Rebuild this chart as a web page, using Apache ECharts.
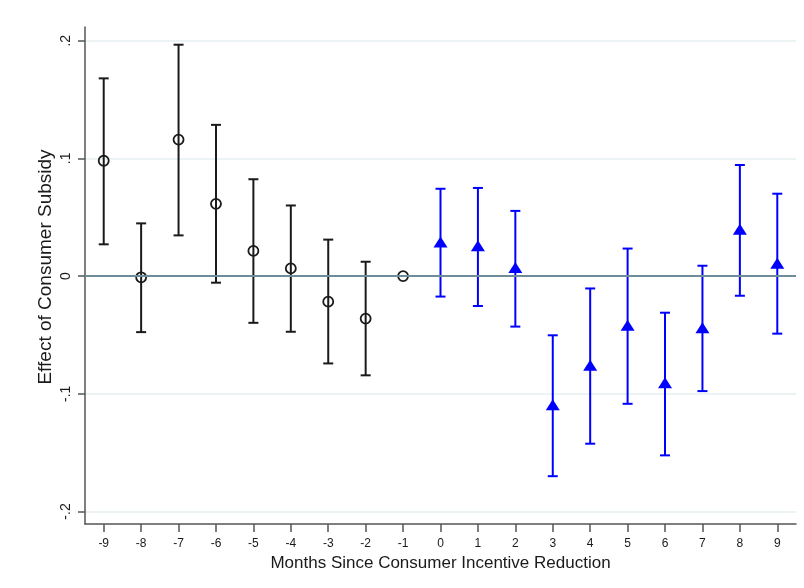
<!DOCTYPE html>
<html>
<head>
<meta charset="utf-8">
<script src="https://cdn.jsdelivr.net/npm/echarts@6/dist/echarts.min.js"></script>
<style>
html,body{margin:0;padding:0;background:#fff;}
#chart{width:804px;height:588px;}
</style>
</head>
<body>
<div id="chart"></div>
<script>
// ---- data ----
var months = ['-9','-8','-7','-6','-5','-4','-3','-2','-1','0','1','2','3','4','5','6','7','8','9'];
var preMonths = ['-9','-8','-7','-6','-5','-4','-3','-2','-1'];
var preCoef  = [0.098, -0.001, 0.116, 0.0614, 0.0214, 0.0065, -0.0217, -0.0361, 0];
var preLow   = [0.027, -0.0476, 0.0346, -0.0056, -0.0397, -0.0473, -0.0742, -0.0843, 0];
var preHigh  = [0.168, 0.0448, 0.1966, 0.1285, 0.0823, 0.060, 0.031, 0.0122, 0];
var postMonths = ['0','1','2','3','4','5','6','7','8','9'];
var postCoef = [0.029, 0.0258, 0.0073, -0.1093, -0.0757, -0.0418, -0.0907, -0.0438, 0.0398, 0.011];
var postLow  = [-0.0174, -0.0254, -0.0429, -0.170, -0.1424, -0.1085, -0.1523, -0.0977, -0.0167, -0.0489];
var postHigh = [0.0742, 0.0749, 0.0554, -0.0503, -0.0105, 0.0234, -0.0311, 0.0088, 0.0944, 0.070];
var yTickValues = [-0.2, -0.1, 0, 0.1, 0.2];
var yTickLabels = ['-.2', '-.1', '0', '.1', '.2'];
var xTitle = 'Months Since Consumer Incentive Reduction';
var yTitle = 'Effect of Consumer Subsidy';

// ---- build ----
var FONT = "'Liberation Sans', Arial, sans-serif";
var TXT = '#1a1a1a';
var AXIS = '#555555';

function errData(ms, lo, hi) {
  var out = [];
  for (var i = 0; i < ms.length; i++) {
    if (lo[i] !== hi[i]) out.push([ms[i], lo[i], hi[i]]);
  }
  return out;
}
function ptData(ms, c) {
  return ms.map(function (m, i) { return [m, c[i]]; });
}
function errRender(color) {
  return function (params, api) {
    var x = api.value(0);
    var lo = api.coord([x, api.value(1)]);
    var hi = api.coord([x, api.value(2)]);
    var hw = 5;
    var st = { stroke: color, lineWidth: 2 };
    return {
      type: 'group',
      children: [
        { type: 'line', shape: { x1: lo[0], y1: lo[1], x2: hi[0], y2: hi[1] }, style: st },
        { type: 'line', shape: { x1: lo[0] - hw, y1: lo[1], x2: lo[0] + hw, y2: lo[1] }, style: st },
        { type: 'line', shape: { x1: hi[0] - hw, y1: hi[1], x2: hi[0] + hw, y2: hi[1] }, style: st }
      ]
    };
  };
}

var chart = echarts.init(document.getElementById('chart'), null, { renderer: 'canvas' });
chart.setOption({
  animation: false,
  backgroundColor: '#ffffff',
  textStyle: { fontFamily: FONT },
  grid: [
    { left: 85, right: 8, top: 27, bottom: 64, containLabel: false },
    { left: 85, right: 8, top: 40.7, bottom: 76.5, containLabel: false }
  ],
  xAxis: [
    {
      gridIndex: 0, type: 'category', data: months, boundaryGap: true,
      axisLine: { show: true, onZero: false, lineStyle: { color: AXIS, width: 1.5 } },
      axisTick: { show: true, alignWithLabel: true, length: 8, lineStyle: { color: AXIS, width: 1.5 } },
      axisLabel: { color: TXT, fontSize: 12, margin: 14, fontFamily: FONT },
      splitLine: { show: false },
      name: xTitle, nameLocation: 'middle', nameGap: 27,
      nameTextStyle: { color: TXT, fontSize: 17, fontFamily: FONT }
    },
    { gridIndex: 1, type: 'value', show: false, min: 0, max: 1 }
  ],
  yAxis: [
    {
      gridIndex: 0, type: 'value', min: -0.21062, max: 0.21164,
      axisLine: { show: true, onZero: false, lineStyle: { color: AXIS, width: 1.5 } },
      axisTick: { show: false }, axisLabel: { show: false }, splitLine: { show: false },
      name: yTitle, nameLocation: 'middle', nameGap: 30,
      nameTextStyle: { color: TXT, fontSize: 19, fontFamily: FONT, padding: [0, 0, 0, 17] }
    },
    {
      gridIndex: 1, type: 'value', min: -0.2, max: 0.2, interval: 0.1,
      axisLine: { show: false },
      axisTick: { show: true, length: 7, lineStyle: { color: AXIS, width: 1.5 } },
      axisLabel: {
        color: TXT, fontSize: 14, rotate: 90, margin: 12, fontFamily: FONT,
        formatter: function (v) {
          for (var i = 0; i < yTickValues.length; i++) {
            if (Math.abs(v - yTickValues[i]) < 1e-6) return yTickLabels[i];
          }
          return '';
        }
      },
      splitLine: { show: true, lineStyle: { color: '#e6eff2', width: 1.5 } }
    }
  ],
  series: [
    {
      type: 'scatter', xAxisIndex: 0, yAxisIndex: 0, data: [], silent: true,
      markLine: {
        silent: true, symbol: ['none', 'none'], label: { show: false },
        lineStyle: { color: '#6f8c9b', width: 1.8, type: 'solid' },
        data: [{ yAxis: 0 }], animation: false
      }
    },
    {
      type: 'custom', xAxisIndex: 0, yAxisIndex: 0, z: 3,
      data: errData(preMonths, preLow, preHigh), renderItem: errRender('#1a1a1a')
    },
    {
      type: 'custom', xAxisIndex: 0, yAxisIndex: 0, z: 3,
      data: errData(postMonths, postLow, postHigh), renderItem: errRender('#0000ff')
    },
    {
      type: 'scatter', xAxisIndex: 0, yAxisIndex: 0, z: 4,
      symbol: 'circle', symbolSize: 10,
      itemStyle: { color: 'rgba(0,0,0,0)', borderColor: '#1a1a1a', borderWidth: 1.8, opacity: 1 },
      data: ptData(preMonths, preCoef)
    },
    {
      type: 'scatter', xAxisIndex: 0, yAxisIndex: 0, z: 4,
      symbol: 'triangle', symbolSize: [14, 11],
      itemStyle: { color: '#0000ff', opacity: 1 },
      data: ptData(postMonths, postCoef)
    }
  ]
});
</script>
</body>
</html>
